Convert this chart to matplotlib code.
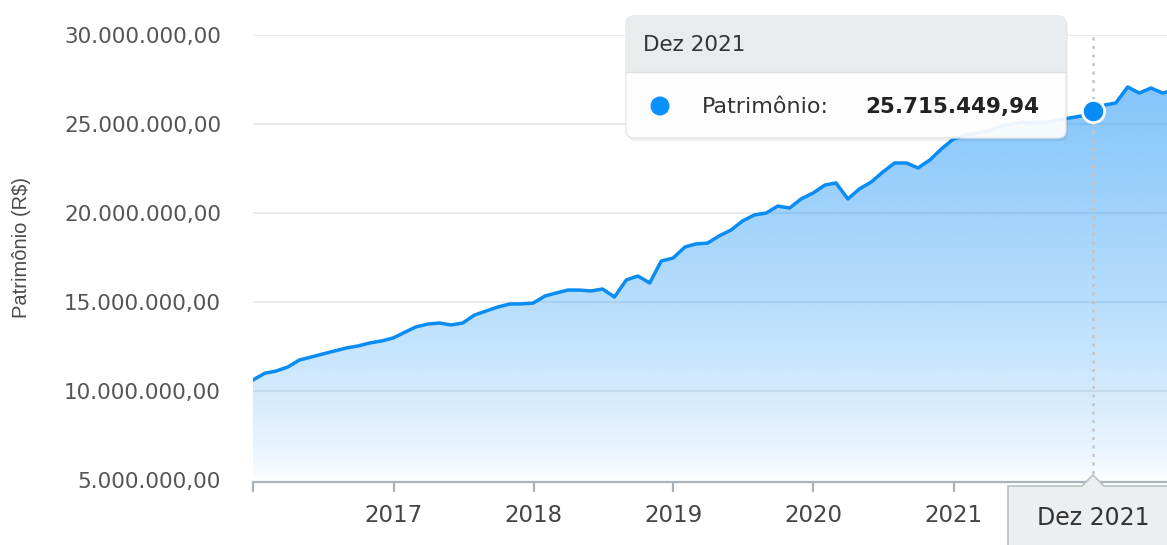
import numpy as np
import pandas as pd
import matplotlib
matplotlib.use("Agg")
import matplotlib.pyplot as plt
import matplotlib.dates as mdates
from matplotlib.patches import FancyBboxPatch, Polygon, Circle

### 数据：月末资产（百万雷亚尔），从 2015-12 开始
patrimonio_mi = [
    10.62,
    11.00, 11.12, 11.35, 11.74, 11.91, 12.08, 12.25, 12.42, 12.53, 12.70, 12.81, 12.98,
    13.31, 13.60, 13.76, 13.82, 13.71, 13.82, 14.27, 14.50, 14.72, 14.89, 14.89, 14.94,
    15.34, 15.50, 15.67, 15.67, 15.62, 15.73, 15.28, 16.24, 16.46, 16.07, 17.30, 17.47,
    18.09, 18.26, 18.31, 18.71, 19.04, 19.55, 19.89, 20.00, 20.39, 20.28, 20.79, 21.12,
    21.57, 21.69, 20.79, 21.35, 21.74, 22.30, 22.81, 22.81, 22.53, 22.98, 23.60, 24.15,
    24.38, 24.49, 24.60, 24.83, 25.00, 25.10, 25.06, 25.10, 25.22, 25.34, 25.45, 25.71544994,
    26.07, 26.18, 27.08, 26.74, 27.02, 26.74, 26.90,
]
datas = pd.date_range("2015-12-31", periods=len(patrimonio_mi), freq="ME")
valores = np.array(patrimonio_mi) * 1e6

y_ticks = [5e6, 10e6, 15e6, 20e6, 25e6, 30e6]
y_labels = ["5.000.000,00", "10.000.000,00", "15.000.000,00",
            "20.000.000,00", "25.000.000,00", "30.000.000,00"]
x_anos = [2016, 2017, 2018, 2019, 2020, 2021]
x_labels = ["", "2017", "2018", "2019", "2020", "2021"]

tip_data = "Dez 2021"
tip_valor = "25.715.449,94"
tip_idx = 72

azul = "#0a8cf5"
W, H = 1167, 545

fig = plt.figure(figsize=(W / 100, H / 100), dpi=100)
ax = fig.add_axes([253 / W, (H - 482) / H, (W - 253) / W, (482 - 35) / H])

x0 = mdates.date2num(pd.Timestamp("2015-12-31"))
x1 = x0 + (W - 253) / (140 / 365.25)
ybot = 5e6 - 2 / 17.8 * 1e6
ax.set_xlim(x0, x1)
ax.set_ylim(ybot, 30e6)

## 渐变填充
xs = mdates.date2num(datas)
poly = ax.fill_between(xs, valores, ybot, color="none", lw=0)
frac = np.linspace(1, 0, 300)[:, None]
grad = np.zeros((300, 1, 4))
grad[..., 0] = 10 / 255
grad[..., 1] = 140 / 255
grad[..., 2] = 245 / 255
grad[..., 3] = 0.55 * frac ** 0.7
img = ax.imshow(grad, extent=[x0, x1, ybot, 30e6], aspect="auto",
                origin="upper", zorder=1)
img.set_clip_path(poly.get_paths()[0], transform=ax.transData)

ax.plot(xs, valores, color=azul, lw=2.5, zorder=3, solid_joinstyle="round")

## 网格与坐标轴
for yv in y_ticks[1:]:
    ax.axhline(yv, color="#e8e8e8", lw=1.2, zorder=0)
for s in ["top", "right", "left"]:
    ax.spines[s].set_visible(False)
ax.spines["bottom"].set_color("#a9b3bc")
ax.spines["bottom"].set_linewidth(1.6)

ax.set_yticks(y_ticks)
ax.set_yticklabels(y_labels)
ax.tick_params(axis="y", length=0, pad=23, labelsize=15.5, labelcolor="#555555")
ax.set_xticks([mdates.date2num(pd.Timestamp(f"{a}-01-01")) for a in x_anos])
ax.set_xticklabels(x_labels)
ax.tick_params(axis="x", length=7, width=1.6, color="#a9b3bc", pad=9,
               labelsize=16.5, labelcolor="#444444")
ax.set_ylabel("Patrimônio (R$)", family="Liberation Sans", fontsize=14.5,
              color="#4a4a4a")
ax.yaxis.set_label_coords(-222 / (W - 253), (482 - 248) / 447)

## 提示框的虚线和点
ax.axvline(xs[tip_idx], color="#c4c4c4", lw=1.8, ls=(0, (1.2, 2.2)), zorder=2)
ax.plot(xs[tip_idx], valores[tip_idx], "o", ms=16, mfc=azul, mec="white",
        mew=2, zorder=5, clip_on=False)

## 覆盖层（像素坐标）
ov = fig.add_axes([0, 0, 1, 1], zorder=10)
ov.set_xlim(0, W)
ov.set_ylim(H, 0)
ov.axis("off")
ov.patch.set_visible(False)

# 阴影
ov.add_patch(FancyBboxPatch((628, 19), 440, 122, boxstyle="round,pad=0,rounding_size=8",
                            fc="#000000", ec="none", alpha=0.06))
ov.add_patch(FancyBboxPatch((626, 16), 440, 122, boxstyle="round,pad=0,rounding_size=8",
                            fc="white", ec="#e2e4e6", lw=1, alpha=0.93))
ov.add_patch(FancyBboxPatch((626, 16), 440, 56, boxstyle="round,pad=0,rounding_size=8",
                            fc="#e9ecef", ec="none"))
ov.add_patch(Polygon([(626, 50), (1066, 50), (1066, 72), (626, 72)],
                     closed=True, fc="#e9ecef", ec="none"))
ov.plot([626, 1066], [72, 72], color="#dcdfe3", lw=1)
ov.text(643, 45, tip_data, fontsize=15.5, color="#333333", va="center", ha="left")
ov.add_patch(Circle((660, 106), 9.5, fc="#0a90ff", ec="none"))
ov.text(702, 107, "Patrimônio:", fontsize=16, color="#333333", va="center", ha="left")
ov.text(865, 107, tip_valor, fontsize=15.5, color="#222222", weight="bold",
        va="center", ha="left")

# 底部 x 标签框
ov.add_patch(Polygon([(1008, 560), (1008, 486), (1082, 486), (1093, 475),
                      (1104, 486), (1180, 486), (1180, 560)],
                     closed=True, fc="#eceef0", ec="#b9c1c8", lw=1.2))
ov.text(1093, 518, tip_data, fontsize=17, color="#333333", va="center", ha="center")

fig.savefig("out.png", dpi=100)
